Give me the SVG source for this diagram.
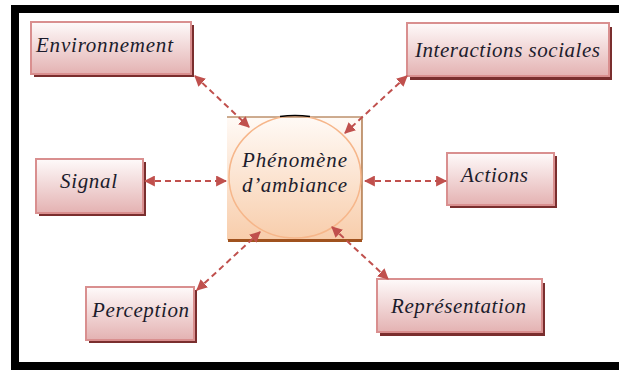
<svg xmlns="http://www.w3.org/2000/svg" width="619" height="370" viewBox="0 0 619 370">
<defs>
<linearGradient id="boxg" x1="0" y1="0" x2="0" y2="1">
<stop offset="0" stop-color="#fefafa"/>
<stop offset="1" stop-color="#e4b2b2"/>
</linearGradient>
<linearGradient id="sqg" x1="0" y1="0" x2="0" y2="1">
<stop offset="0" stop-color="#fffaf6"/>
<stop offset="1" stop-color="#f8cdab"/>
</linearGradient>
<marker id="ah" viewBox="0 0 10 10" refX="9" refY="5" markerWidth="5.5" markerHeight="5.5" orient="auto-start-reverse" markerUnits="strokeWidth">
<path d="M0,0 L10,5 L0,10 z" fill="#c0504d"/>
</marker>
</defs>
<style>
.shadow{fill:#7a2e2e}
.box{fill:url(#boxg);stroke:#d98f8f;stroke-width:2}
.lbl{font-family:"Liberation Serif","Times New Roman",serif;font-style:italic;font-size:21px;fill:#1c1c2c}
.con{fill:none;stroke:#c0504d;stroke-width:2;stroke-dasharray:6 4;marker-start:url(#ah);marker-end:url(#ah)}
</style>
<rect x="0" y="0" width="619" height="370" fill="#ffffff"/>
<path d="M15,9 H625 V366 H15 Z" fill="none" stroke="#000" stroke-width="8"/>

<g id="center">
<rect x="227" y="117" width="135" height="123" fill="url(#sqg)"/>
<path d="M227,117 H362 V240" fill="none" stroke="#9c5a24" stroke-width="1.2"/>
<path d="M228,240.5 H362" fill="none" stroke="#a0521e" stroke-width="3"/>
<ellipse cx="295" cy="177" rx="66" ry="61" fill="none" stroke="#f6b68a" stroke-width="1.5"/>
<path d="M280,116.5 Q295,114.5 310,116.5" fill="none" stroke="#000" stroke-width="1.5"/>
<text class="lbl" x="242" y="167" textLength="105" lengthAdjust="spacing">Phénomène</text>
<text class="lbl" x="242" y="192" textLength="105" lengthAdjust="spacing">d’ambiance</text>
</g>

<g id="environnement">
<rect class="shadow" x="34" y="25" width="160" height="52"/>
<rect class="box" x="31" y="22" width="160" height="52"/>
<text class="lbl" x="36" y="52" textLength="137" lengthAdjust="spacing">Environnement</text>
</g>

<g id="interactions">
<rect class="shadow" x="410" y="27" width="202" height="53"/>
<rect class="box" x="407" y="23" width="202" height="53"/>
<text class="lbl" x="415" y="57" textLength="185" lengthAdjust="spacing">Interactions sociales</text>
</g>

<g id="signal">
<rect class="shadow" x="39" y="162" width="107" height="54"/>
<rect class="box" x="36" y="159" width="107" height="54"/>
<text class="lbl" x="60" y="188" textLength="57" lengthAdjust="spacing">Signal</text>
</g>

<g id="actions">
<rect class="shadow" x="450" y="156" width="107" height="52"/>
<rect class="box" x="447" y="153" width="107" height="52"/>
<text class="lbl" x="461" y="182" textLength="67" lengthAdjust="spacing">Actions</text>
</g>

<g id="perception">
<rect class="shadow" x="89" y="290" width="108" height="53"/>
<rect class="box" x="86" y="287" width="108" height="53"/>
<text class="lbl" x="92" y="317" textLength="97" lengthAdjust="spacing">Perception</text>
</g>

<g id="representation">
<rect class="shadow" x="380" y="283" width="165" height="53"/>
<rect class="box" x="377" y="279" width="165" height="53"/>
<text class="lbl" x="391" y="313" textLength="135" lengthAdjust="spacing">Représentation</text>
</g>

<g id="connectors">
<line class="con" x1="195" y1="76" x2="249" y2="127"/>
<line class="con" x1="407" y1="76" x2="345" y2="133"/>
<line class="con" x1="145" y1="181" x2="226" y2="181"/>
<line class="con" x1="365" y1="181" x2="446" y2="181"/>
<line class="con" x1="197" y1="290" x2="260" y2="232"/>
<line class="con" x1="332" y1="227" x2="388" y2="279"/>
</g>
</svg>
